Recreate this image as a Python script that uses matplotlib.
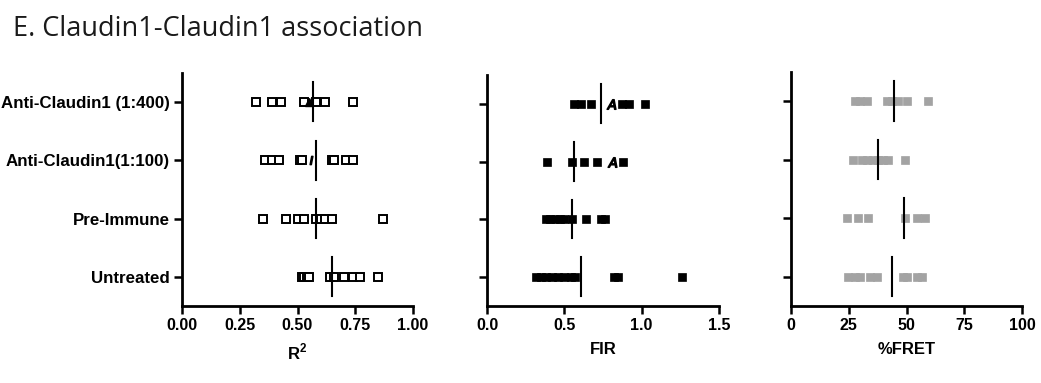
import matplotlib
matplotlib.use("Agg")
import matplotlib.pyplot as plt
import numpy as np

# Groups, listed bottom to top
groups = ["Untreated", "Pre-Immune", "Anti-Claudin1(1:100)", "Anti-Claudin1 (1:400)"]

# R^2 values per group
r2_untreated = [0.52, 0.53, 0.54, 0.55, 0.64, 0.66, 0.70, 0.74, 0.77, 0.85]
r2_preimmune = [0.35, 0.45, 0.50, 0.53, 0.58, 0.60, 0.62, 0.65, 0.87]
r2_anti100 = [0.36, 0.39, 0.42, 0.51, 0.52, 0.65, 0.66, 0.71, 0.74]
r2_anti400 = [0.32, 0.39, 0.43, 0.53, 0.58, 0.62, 0.74]
r2_medians = [0.65, 0.58, 0.58, 0.567]
r2_extra = [None, None, 0.56, 0.55]          # overlapping odd-shaped points

# FIR values per group
fir_untreated = [0.32, 0.35, 0.38, 0.42, 0.46, 0.50, 0.54, 0.57, 0.82, 0.85, 1.26]
fir_preimmune = [0.38, 0.41, 0.44, 0.47, 0.50, 0.55, 0.64, 0.74, 0.76]
fir_anti100 = [0.39, 0.55, 0.63, 0.71, 0.88]
fir_anti400 = [0.56, 0.61, 0.67, 0.87, 0.92, 1.02]
fir_medians = [0.61, 0.55, 0.56, 0.74]
fir_extra = [None, None, 0.81, 0.80]

# %FRET values per group
fret_untreated = [24.7, 27.7, 29.9, 34.2, 37.2, 48.5, 50.2, 54.5, 56.7]
fret_preimmune = [24.2, 29.0, 33.3, 49.4, 54.5, 58.0]
fret_anti100 = [26.8, 30.7, 32.9, 35.5, 37.7, 39.8, 42.0, 49.4]
fret_anti400 = [27.7, 30.0, 33.0, 41.5, 43.7, 46.3, 50.0, 59.3]
fret_medians = [43.7, 49.0, 37.7, 44.6]

r2_sets = [r2_untreated, r2_preimmune, r2_anti100, r2_anti400]
fir_sets = [fir_untreated, fir_preimmune, fir_anti100, fir_anti400]
fret_sets = [fret_untreated, fret_preimmune, fret_anti100, fret_anti400]

r2_ticks = [0.00, 0.25, 0.50, 0.75, 1.00]
fir_ticks = [0.0, 0.5, 1.0, 1.5]
fret_ticks = [0, 25, 50, 75, 100]

plt.rcParams["font.family"] = ["Liberation Sans", "DejaVu Sans"]
plt.rcParams["mathtext.fontset"] = "custom"
plt.rcParams["mathtext.rm"] = "Liberation Sans:bold"
plt.rcParams["mathtext.bf"] = "Liberation Sans:bold"

W, H = 1041, 383
fig = plt.figure(figsize=(W / 100, H / 100), dpi=100)
fig.patch.set_facecolor("white")


def panel(left, top_px, bottom_px=306, width_px=231):
    return fig.add_axes([left / W, 1 - bottom_px / H, width_px / W, (bottom_px - top_px) / H])


axes = [panel(182, 73), panel(487, 75, width_px=232), panel(791, 72)]

specs = [
    (r2_sets, r2_medians, r2_ticks, ["0.00", "0.25", "0.50", "0.75", "1.00"], r"R$^{\mathbf{2}}$",
     dict(marker="s", ms=6.2, mfc="white", mec="black", mew=1.4), r2_extra),
    (fir_sets, fir_medians, fir_ticks, ["0.0", "0.5", "1.0", "1.5"], "FIR",
     dict(marker="s", ms=5.4, mfc="black", mec="black", mew=0.5), fir_extra),
    (fret_sets, fret_medians, fret_ticks, ["0", "25", "50", "75", "100"], "%FRET",
     dict(marker="s", ms=5.4, mfc="#a3a3a3", mec="#a3a3a3", mew=0.5), [None] * 4),
]

ypos = np.arange(1, len(groups) + 1)

for i, (ax, (sets, meds, ticks, tlabels, xlabel, mstyle, extra)) in enumerate(zip(axes, specs)):
    for y, vals in zip(ypos, sets):
        ax.plot(vals, [y] * len(vals), ls="none", zorder=3, **mstyle)
    for y, m in zip(ypos, meds):
        ax.plot([m, m], [y - 0.33, y + 0.34], color="black", lw=1.5, zorder=4)
    for y, e in zip(ypos, extra):
        if e is not None:
            mk = "$A$" if i == 1 else ("^" if y == 4 else "$/$")
            ax.plot([e], [y], ls="none", marker=mk, ms=7 if i == 1 else 6,
                    color="black", zorder=5)
    ax.set_xlim(ticks[0], ticks[-1])
    ax.set_ylim(0.5, 4.5)
    ax.set_xticks(ticks)
    ax.set_xticklabels(tlabels, fontsize=11.5, fontweight="bold")
    ax.set_yticks(ypos)
    if i == 0:
        ax.set_yticklabels(groups, fontsize=12.2, fontweight="bold")
    else:
        ax.set_yticklabels([])
    ax.set_xlabel(xlabel, fontsize=12, fontweight="bold", labelpad=6)
    for side in ("top", "right"):
        ax.spines[side].set_visible(False)
    for side in ("left", "bottom"):
        ax.spines[side].set_linewidth(2)
    ax.tick_params(axis="both", width=1.8, length=6, pad=3, color="black")

fig.text(13 / W, 1 - 36 / H, "E. Claudin1-Claudin1 association",
         fontsize=19.5, family=["Open Sans", "DejaVu Sans"], color="#1a1a1a", va="baseline")

fig.savefig("out.png", dpi=100, facecolor="white")
